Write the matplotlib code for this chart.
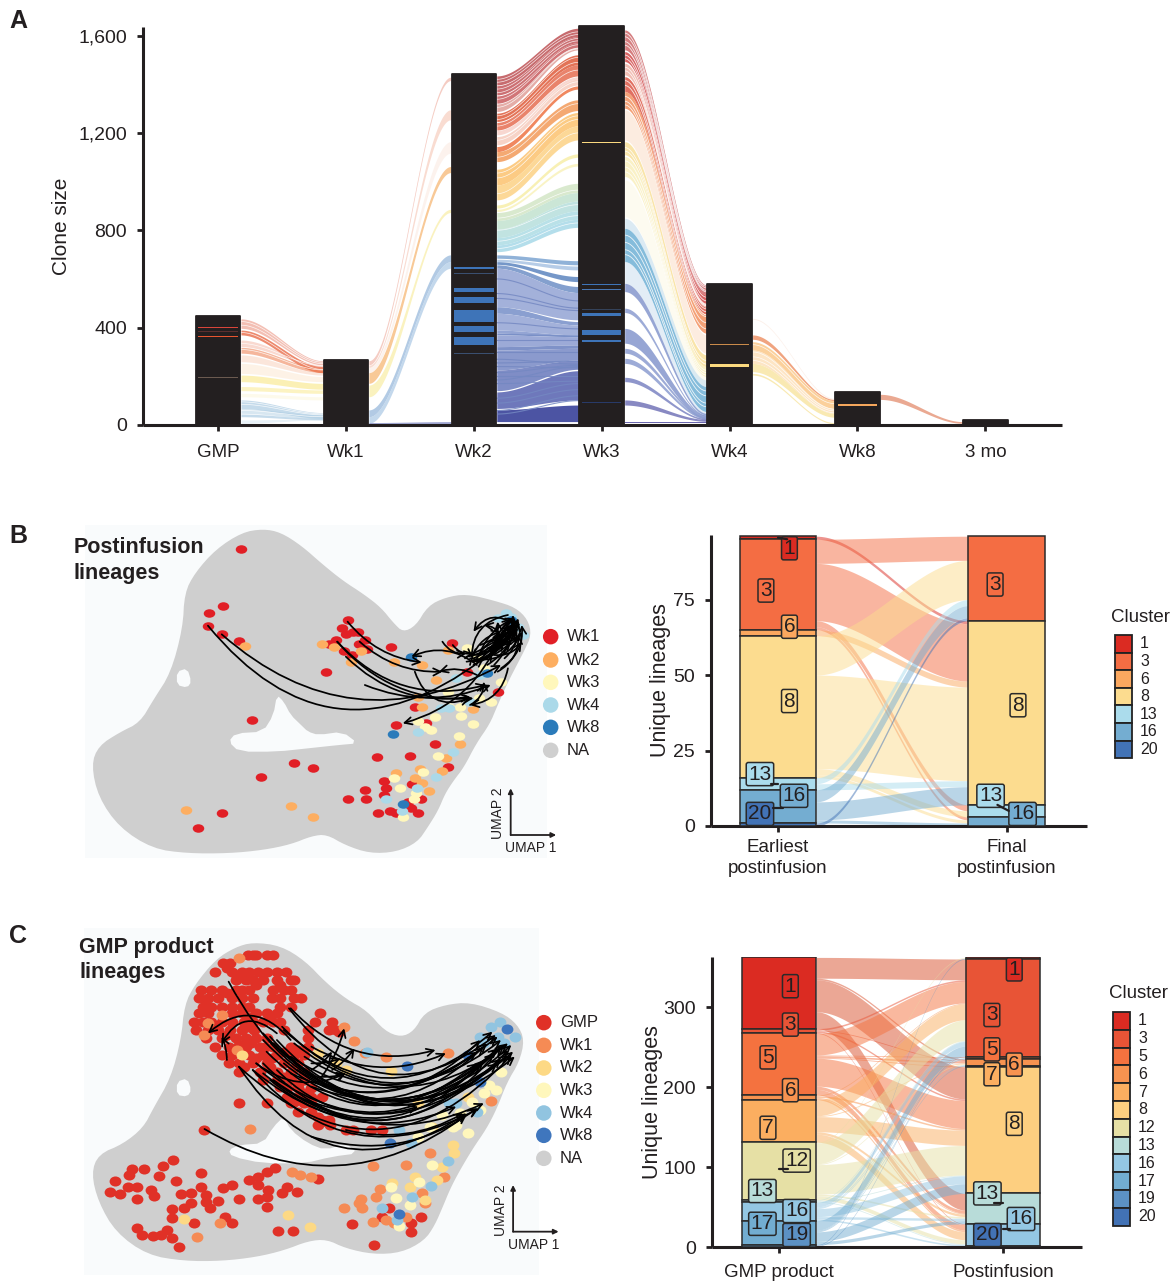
import numpy as np
import matplotlib
matplotlib.use('Agg')
from matplotlib import pyplot as plt
from matplotlib.markers import MarkerStyle
from matplotlib.patches import FancyArrowPatch
from matplotlib.transforms import Affine2D

plt.rcParams['font.family'] = ['Liberation Sans', 'DejaVu Sans']
INK = '#231f20'
W, H = 1174, 1283

# panel A
stages = ['GMP', 'Wk1', 'Wk2', 'Wk3', 'Wk4', 'Wk8', '3 mo']
stage_totals = [448, 267, 1442, 1640, 579, 135, 20]

# one row per band: left top, left bottom, right top, right bottom, colour, alpha
bands_gmp_wk1 = [
    (436, 397, 264, 247, '#e8806a', .5), (390, 370, 240, 215, '#e8623c', .75),
    (349, 322, 247, 240, '#f0a08a', .4), (319, 295, 233, 215, '#ee7a4c', .55),
    (288, 260, 215, 205, '#f6b89a', .35), (253, 212, 199, 178, '#fbdcb8', .35),
    (205, 178, 171, 147, '#fbeea8', .85), (158, 141, 144, 130, '#fbeea8', .7),
    (130, 116, 116, 103, '#fbf3cf', .4), (103, 68, 51, 27, '#8db8d8', .5),
    (68, 48, 41, 25, '#a9cbe2', .45), (45, 34, 27, 21, '#8db8d8', .5),
    (21, 7, 25, 21, '#c6dcec', .4),
]
bands_wk1_wk2 = [
    (264, 247, 1429, 1415, '#eb9a88', .5), (245, 237, 1295, 1254, '#f0a88e', .4),
    (237, 215, 1164, 1117, '#f6cdb8', .25), (215, 171, 1062, 1037, '#f6b26b', .7),
    (164, 116, 886, 873, '#f9efb0', .8), (62, 34, 699, 671, '#7fa8d3', .6),
    (34, 7, 671, 644, '#a4c3e2', .65), (10, 4, 14, 4, '#8a92c8', .8),
]
bands_wk2_wk3 = [
    (1434, 1397, 1630, 1596, '#b5393d', .75), (1394, 1356, 1596, 1571, '#bb4044', .75),
    (1352, 1322, 1571, 1552, '#c2474a', .75), (1319, 1288, 1549, 1541, '#cf6a60', .55),
    (1281, 1247, 1521, 1480, '#df5a3a', .85), (1243, 1212, 1480, 1434, '#e2593a', .75),
    (1210, 1192, 1431, 1421, '#f0a898', .45), (1185, 1151, 1421, 1397, '#f2b09a', .55),
    (1144, 1123, 1393, 1380, '#ef7b4d', .9), (1123, 1082, 1336, 1292, '#f2944f', .8),
    (1051, 986, 1284, 1229, '#fcc26f', .85), (986, 925, 1229, 1171, '#fcd285', .85),
    (904, 891, 1114, 1100, '#f7eea8', .85), (886, 877, 1075, 1064, '#f9f2bb', .85),
    (873, 840, 993, 955, '#d3e6c6', .85), (840, 805, 955, 920, '#c2e2cf', .85),
    (805, 770, 920, 880, '#b6dfdc', .85), (770, 740, 880, 845, '#addce4', .85),
    (740, 712, 845, 812, '#a7d9e8', .85), (699, 685, 675, 658, '#7da5d2', .85),
    (681, 671, 653, 637, '#a9c4e3', .85), (671, 660, 610, 589, '#5d85bf', .85),
    (658, 644, 569, 544, '#6f8fc6', .85), (644, 486, 544, 432, '#a3b1da', 1),
    (486, 459, 425, 411, '#8a9fd0', 1), (459, 390, 411, 370, '#a3b1da', 1),
    (390, 377, 370, 363, '#94a5d4', 1), (377, 370, 370, 363, '#7a90c7', 1),
    (370, 322, 363, 329, '#9caad7', 1), (322, 308, 329, 315, '#7f92c8', 1),
    (308, 226, 315, 267, '#8b9acd', 1), (226, 141, 267, 229, '#7f8dc6', 1),
    (136, 68, 223, 103, '#6e78bb', 1), (62, 14, 82, 14, '#4c54a3', 1),
]
bands_wk3_wk4 = [
    (1623, 1541, 575, 534, '#c4474a', .7), (1534, 1493, 534, 500, '#cc2f2f', .75),
    (1486, 1438, 500, 484, '#e88a77', .55), (1431, 1370, 484, 456, '#d8402c', .75),
    (1370, 1301, 452, 377, '#f28a55', .8), (1295, 1171, 370, 295, '#f9c9a8', .35),
    (1164, 1110, 288, 240, '#f9e09a', .85), (1103, 1021, 240, 199, '#f8eaa8', .65),
    (1007, 856, 199, 164, '#fbf3cf', .3), (849, 808, 185, 158, '#cfe4f0', .75),
    (808, 671, 158, 55, '#7fb9d9', .95), (671, 582, 55, 34, '#cddff0', .55),
    (582, 548, 48, 41, '#8c9dd0', .9), (480, 462, 41, 36, '#8c9dd0', .85),
    (397, 336, 41, 27, '#8c9dd0', .9), (315, 295, 34, 27, '#8c9dd0', .85),
    (274, 253, 32, 25, '#8c9dd0', .85), (196, 178, 27, 21, '#7b84c2', .85),
    (103, 82, 23, 15, '#7b7cbc', .9), (14, 7, 14, 7, '#5a55a5', .9),
]
bands_wk4_wk8 = [
    (438, 434, 110, 105, '#f6cdb8', .3), (370, 352, 105, 100, '#ef9a72', .9),
    (342, 308, 100, 68, '#fbc88a', .85), (308, 253, 68, 48, '#fcd7a6', .65),
    (253, 219, 48, 32, '#f8e6a5', .85), (212, 205, 10, 5, '#f8e6a5', .85),
]
bands_wk8_3mo = [(126, 105, 14, 7, '#e9a58c', .95)]

# thin separators between single clones: left level, right level
lines_gmp_wk1 = [(425, 258), (410, 252), (380, 228), (335, 244), (310, 226), (95, 46), (85, 42), (60, 34)]
lines_wk2_wk3 = [(1420, 1615), (1408, 1604), (1380, 1588), (1365, 1578), (1338, 1562), (1305, 1545), (1270, 1510),
                 (1255, 1490), (1228, 1458), (1170, 1410), (1100, 1320), (1035, 1270), (1015, 1255), (950, 1200),
                 (850, 965), (800, 905), (755, 860), (725, 830)]
dark_wk2_wk3 = [(600, 510), (540, 480), (520, 470), (420, 395), (350, 350), (300, 300), (270, 250), (240, 235),
                (200, 200), (170, 180), (110, 170), (90, 145), (255, 262), (215, 245), (185, 240), (60, 120), (45, 100)]
lines_wk3_wk4 = [(1610, 570), (1595, 563), (1575, 553), (1560, 547), (1520, 525), (1505, 510), (1470, 495), (1455, 490),
                 (1415, 477), (1395, 465), (1350, 445), (1330, 420), (1315, 395), (1140, 265), (1125, 250), (1085, 225),
                 (1060, 215), (1040, 205), (780, 140), (750, 120), (720, 90), (700, 75)]
lines_wk4_wk8 = [(330, 88), (300, 65), (280, 58), (265, 50)]

# level, thickness, colour of the stripes inside the dark bars
stripes_a = {
    0: [(401, 3, '#d9453a'), (385, 3, '#5a3030'), (363, 7, '#e8552f'), (196, 3, '#6b5a50')],
    2: [(645, 8, '#3e74b8'), (623, 3, '#3a4f70'), (555, 18, '#3e74b8'), (514, 25, '#3e74b8'),
        (448, 52, '#3e74b8'), (394, 25, '#3e74b8'), (344, 33, '#3e74b8'), (294, 3, '#3a4f70')],
    3: [(1160, 7, '#fbd97f'), (578, 3, '#3e74b8'), (557, 7, '#4a78b4'), (475, 3, '#34425a'),
        (453, 13, '#3e74b8'), (381, 20, '#3e74b8'), (344, 10, '#3e74b8'), (93, 3, '#283a68')],
    4: [(331, 3, '#c98a4a'), (244, 12, '#fbd97f')],
    5: [(81, 8, '#f4a65c')],
}

# panel B
clusters_b = [1, 3, 6, 8, 13, 16, 20]
colors_b = {1: '#db2b22', 3: '#f46d43', 6: '#fba85f', 8: '#fcdc8f', 13: '#abdcec', 16: '#74add1', 20: '#4273b6'}
from_b = [1, 3, 3, 3, 3, 6, 8, 8, 8, 8, 13, 13, 16, 16, 16, 20]
to_b = [8, 3, 8, 13, 16, 8, 3, 8, 13, 16, 3, 8, 3, 8, 16, 3]
count_b = [1, 8, 19, 2, 1, 2, 13, 31, 2, 1, 2, 2, 4, 6, 1, 1]
labels_b_x = [1.05, .947, 1.05, 1.05, .921, 1.07, .921, 1.95, 2.05, 1.93, 2.07]
labels_b_y = [92, 78, 66, 41.4, 17.2, 10, 4, 80, 40, 10, 4]
labels_b_text = [1, 3, 6, 8, 13, 16, 20, 3, 8, 13, 16]

# panel C
clusters_c = [1, 3, 5, 6, 7, 8, 12, 13, 16, 17, 19, 20]
colors_c = {1: '#db2b22', 3: '#e85436', 5: '#f4723f', 6: '#f79350', 7: '#fbae60', 8: '#fdcf80',
            12: '#e6e0a5', 13: '#b8dcd9', 16: '#94c7e3', 17: '#72add1', 19: '#5c91c4', 20: '#4272b5'}
from_c = [1, 1, 1, 1, 3, 3, 3, 3, 5, 5, 5, 5, 5, 5, 5, 6, 6, 6, 6, 7, 7, 7, 7, 7,
          12, 12, 12, 12, 12, 12, 13, 13, 13, 16, 16, 16, 16, 16, 16, 17, 17, 17, 17, 17, 19, 19, 19]
to_c = [3, 6, 8, 13, 3, 6, 8, 16, 3, 5, 6, 7, 8, 13, 16, 3, 8, 13, 16, 3, 6, 8, 13, 16,
        1, 3, 6, 8, 13, 16, 3, 8, 16, 3, 5, 6, 8, 13, 16, 3, 5, 6, 8, 13, 1, 3, 20]
count_c = [26, 2, 40, 21, 2, 1, 2, 1, 27, 1, 2, 1, 35, 4, 7, 1, 2, 1, 2, 20, 1, 19, 3, 10,
           1, 26, 1, 37, 2, 5, 1, 1, 1, 6, 1, 1, 10, 3, 2, 12, 1, 1, 12, 4, 1, 1, 1]
labels_c_x = [1.05, 1.05, .95, 1.05, .95, 1.078, .925, 1.078, .925, 1.078, 2.05, 1.95, 1.95, 2.05, 1.95, 2.05, 1.93, 2.08, 1.93]
labels_c_y = [326, 278, 237, 196, 149, 108, 70, 45, 29, 15, 347, 290, 247, 228, 216, 154, 67, 35, 15]
labels_c_text = [1, 3, 5, 6, 7, 12, 13, 16, 17, 19, 1, 3, 5, 6, 7, 8, 13, 16, 20]

# UMAP cloud outlines
cloud_b_x = [560, 610, 670, 730, 790, 850, 900, 935, 965, 1005, 1040, 1090, 1150, 1230, 1290, 1325, 1335, 1315, 1295, 1265, 1235, 1215, 1175, 1140, 1110, 1085, 1065, 1035, 1005, 945, 870, 800, 745, 700, 640, 560, 460, 340, 240, 145, 85, 65, 85, 145, 205, 245, 295, 330, 335, 365, 425, 500]
cloud_b_y = [15, 25, 65, 120, 170, 210, 250, 295, 325, 305, 245, 220, 210, 230, 250, 285, 330, 375, 415, 475, 545, 595, 655, 725, 765, 805, 855, 905, 950, 978, 982, 958, 925, 930, 955, 972, 982, 982, 968, 905, 815, 720, 665, 625, 595, 525, 445, 310, 205, 145, 75, 25]
hole_b_x = [460, 480, 560, 590, 600, 620, 640, 670, 690, 720, 790, 835, 780, 690, 600, 490]
hole_b_y = [650, 625, 620, 570, 510, 530, 570, 600, 620, 630, 620, 655, 660, 670, 680, 680]
notch_b_x = [310, 340, 352, 340, 310]
notch_b_y = [440, 430, 470, 488, 480]
cloud_c_x = [530, 610, 680, 740, 800, 860, 910, 960, 1000, 1030, 1090, 1160, 1250, 1295, 1315, 1300, 1265, 1235, 1205, 1165, 1125, 1100, 1080, 1055, 1025, 960, 880, 800, 745, 690, 620, 540, 440, 330, 225, 135, 85, 65, 85, 155, 215, 245, 295, 325, 335, 365, 425, 480]
cloud_c_y = [40, 50, 95, 160, 210, 245, 305, 325, 305, 250, 227, 220, 250, 285, 330, 395, 455, 535, 595, 655, 725, 775, 825, 885, 930, 965, 970, 952, 925, 930, 958, 978, 990, 990, 972, 905, 815, 730, 675, 645, 595, 535, 445, 330, 225, 165, 90, 55]
hole_c_x = [460, 490, 560, 590, 620, 640, 690, 740, 800, 835, 760, 680, 560, 470]
hole_c_y = [660, 645, 640, 590, 560, 600, 640, 660, 640, 670, 680, 700, 700, 680]
notch_c_x = [310, 340, 352, 340, 310]
notch_c_y = [455, 445, 480, 500, 495]

names_b = ['Wk1', 'Wk2', 'Wk3', 'Wk4', 'Wk8', 'NA']
dots_b = ['#e11f26', '#fdae61', '#fff7bc', '#abd9e9', '#2b7bba', '#cfcfcf']
wk1_b = [(496, 73), (445, 243), (402, 265), (400, 302), (440, 328), (490, 348), (805, 284), (790, 310), (800, 328), (820, 322), (835, 322), (855, 345), (838, 357), (772, 345), (750, 357), (795, 378), (818, 390), (862, 372), (932, 367), (1107, 355), (743, 442), (1240, 500), (528, 586), (1000, 545), (945, 600), (1033, 595), (1058, 656), (890, 697), (987, 694), (1097, 727), (650, 713), (706, 729), (555, 755), (910, 768), (915, 790), (855, 795), (805, 821), (858, 822), (910, 810), (993, 778), (1017, 822), (980, 830), (990, 848), (1010, 863), (893, 863), (928, 857), (945, 865), (442, 865), (372, 910), (1150, 440)]
wk2_b = [(507, 364), (730, 358), (765, 367), (843, 378), (815, 412), (940, 410), (1020, 420), (1095, 375), (1020, 545), (1170, 553), (1130, 658), (1090, 700), (1080, 737), (1015, 733), (1000, 760), (1020, 775), (1042, 799), (945, 745), (336, 855), (642, 843), (704, 877), (1060, 465), (1010, 515)]
wk3_b = [(1058, 576), (1133, 574), (1008, 587), (1030, 607), (1048, 615), (1170, 596), (1128, 632), (1067, 692), (1025, 742), (940, 758), (957, 790), (1003, 805), (997, 822), (966, 876), (1130, 545), (1220, 530), (1250, 470), (1180, 400), (1200, 430), (1150, 370), (1095, 500), (1185, 520), (1100, 545)]
wk4_b = [(1075, 550), (1100, 548), (1008, 620), (1110, 680), (1060, 755), (1005, 790), (917, 823), (962, 858), (1265, 265), (1240, 280), (1300, 305), (1315, 330), (1280, 275), (1160, 530), (1120, 460), (1190, 450)]
wk8_b = [(990, 395), (1210, 443), (938, 628), (967, 838), (1280, 285)]
arrows_b = [(400, 302, 1200, 400, .48), (440, 328, 1250, 420, .35), (805, 290, 1020, 412, .2), (840, 350, 1080, 440, .2),
            (775, 350, 1205, 480, .3), (775, 350, 1170, 520, .25), (800, 395, 1160, 515, .25), (855, 480, 1220, 480, .2),
            (1000, 440, 1160, 520, .5), (1110, 360, 1170, 385, .3), (1080, 350, 1150, 385, .3), (1180, 420, 990, 395, .3),
            (1250, 330, 965, 595, -.25), (1180, 450, 1070, 440, .2), (1290, 300, 1170, 320, .5), (1200, 400, 1285, 270, .3),
            (1180, 410, 1300, 280, .25), (1170, 390, 1290, 300, .3), (1160, 400, 1310, 320, .4), (1210, 420, 1300, 290, .2),
            (1220, 410, 1280, 280, -.2), (1150, 395, 1270, 290, .3), (1250, 430, 1310, 300, .3), (1240, 440, 1300, 330, .3),
            (1170, 420, 1270, 300, .2), (1190, 380, 1290, 280, -.2), (1190, 400, 1240, 290, .3), (1260, 400, 1280, 280, .4),
            (1230, 390, 1310, 350, .3), (1150, 410, 1260, 350, .2), (1220, 350, 1290, 290, .2), (1270, 430, 1160, 540, -.35),
            (1160, 540, 1200, 470, .3), (1270, 270, 1165, 400, .4), (1180, 400, 1290, 320, -.25), (1200, 380, 1270, 330, .35),
            (1170, 410, 1280, 350, .15), (1210, 400, 1300, 340, -.15), (1240, 370, 1200, 300, .6), (1160, 420, 1250, 320, -.3),
            (1170, 400, 1300, 310, .1), (1190, 410, 1280, 330, .1), (1200, 390, 1290, 300, .05), (1180, 390, 1270, 320, .1),
            (1210, 370, 1300, 300, .15), (1160, 390, 1260, 330, .05), (1230, 420, 1290, 320, .1), (1190, 360, 1280, 300, .1)]

names_c = ['GMP', 'Wk1', 'Wk2', 'Wk3', 'Wk4', 'Wk8', 'NA']
dots_c = ['#e03127', '#f58b55', '#fdd985', '#fff7bc', '#91c4e0', '#3f76bd', '#cfcfcf']
gmp_rows = {75: [515, 530, 540, 570, 590], 100: [445, 465], 125: [420, 470, 500, 520, 545, 570, 600, 625],
            150: [480, 510, 530, 560, 600, 640, 650], 180: [380, 410, 440, 480, 500, 520, 590, 620, 640],
            205: [375, 400, 430, 470, 500, 530, 585, 610, 650, 670], 230: [385, 410, 440, 470, 500, 520, 610, 640],
            250: [375, 400, 470, 500, 540, 570, 600, 725], 275: [360, 385, 410, 440, 470, 505, 530, 560, 590, 610, 710, 760],
            300: [365, 400, 430, 465, 500, 535, 620, 690, 750, 770], 325: [395, 440, 480, 510, 540, 570, 690],
            350: [420, 460, 510, 550, 590, 640, 690], 375: [440, 470, 520, 560, 600, 650, 680],
            400: [460, 490, 530, 570, 620, 660], 425: [490, 550, 600, 640, 680], 450: [560, 600, 640, 680],
            475: [630, 660, 700], 500: [630, 660, 700, 730], 520: [490, 570, 640, 680], 545: [660, 700],
            570: [730, 750], 585: [720, 755], 600: [390, 800, 820, 873, 905]}
gmp_extra = [(455, 115), (485, 140), (540, 165), (610, 165), (455, 190), (395, 225), (520, 262), (580, 262), (420, 290),
             (520, 290), (455, 315), (525, 340), (490, 345), (565, 350), (620, 365), (540, 385), (585, 385), (505, 412),
             (580, 410), (650, 415), (620, 440), (660, 462), (610, 470), (680, 490), (650, 515), (700, 520), (720, 560),
             (745, 575), (780, 305), (660, 360)]
gmp_low = [(300, 690), (270, 708), (180, 718), (215, 718), (170, 735), (258, 738), (130, 752), (380, 730), (307, 752), (168, 772), (195, 772), (115, 786), (145, 793), (235, 780), (243, 798), (193, 806), (322, 792), (380, 770), (350, 790), (395, 795), (295, 837), (330, 835), (350, 820), (395, 815), (405, 835), (430, 813), (490, 806), (445, 775), (470, 765), (520, 750), (545, 740), (570, 725), (595, 715), (545, 765), (575, 780), (570, 800), (545, 808), (615, 790), (630, 772), (658, 787), (570, 830), (450, 860), (470, 880), (295, 865), (360, 878), (195, 893), (210, 914), (240, 918), (265, 915), (280, 900), (295, 925), (317, 952), (603, 904), (647, 904), (818, 882), (882, 945), (905, 860), (990, 905), (1018, 860), (925, 833), (990, 880), (720, 748)]
wk1_c = [(522, 598), (368, 921), (435, 878), (643, 725), (668, 735), (698, 740), (878, 708), (973, 706), (900, 778), (888, 800), (845, 808), (837, 820), (848, 833), (795, 833), (880, 875), (915, 870), (940, 880), (975, 860), (1045, 668), (1085, 740), (1020, 790), (1030, 820), (400, 278), (440, 255), (390, 315), (490, 85), (485, 360), (795, 292), (825, 333), (855, 370), (917, 380), (1095, 370), (1222, 512)]
wk2_c = [(1110, 645), (1115, 670), (1078, 712), (1065, 750), (1000, 742), (985, 770), (935, 758), (1030, 810), (633, 855), (695, 890), (330, 868), (498, 376), (720, 370), (770, 400), (800, 420), (930, 422), (1010, 520), (1155, 500), (1050, 590)]
wk3_c = [(1050, 705), (1013, 755), (930, 770), (945, 803), (985, 825), (955, 888), (1155, 608), (1110, 590), (1045, 590), (1010, 620), (1120, 585), (1200, 490), (1235, 480), (1215, 465), (1165, 515), (1190, 540), (1130, 550), (1250, 425), (1080, 555)]
wk4_c = [(1247, 275), (1220, 290), (1190, 320), (1200, 340), (1290, 320), (1240, 320), (1260, 340), (1097, 692), (1047, 767), (993, 800), (905, 835), (948, 870), (860, 365), (955, 600), (990, 640), (1180, 545), (1100, 520), (1120, 520)]
wk8_c = [(1266, 296), (1155, 375), (978, 407), (927, 640), (955, 852), (1190, 455)]
arrows_c = [(390, 597, 1150, 555, .33), (460, 155, 1240, 320, .6), (635, 235, 1235, 315, .5), (615, 290, 1250, 330, .45),
            (560, 310, 1260, 345, .5), (580, 320, 1285, 365, .5), (600, 330, 1240, 355, .5), (650, 340, 1270, 340, .4),
            (560, 330, 1200, 350, .5), (570, 365, 1180, 400, .45), (620, 400, 1190, 410, .4), (680, 380, 1180, 365, .35),
            (540, 400, 1230, 370, .45), (530, 420, 1250, 385, .45), (490, 410, 1280, 375, .5), (590, 450, 1200, 390, .45),
            (560, 430, 1250, 350, .5), (640, 430, 1190, 330, .35), (700, 470, 1280, 345, .3), (660, 500, 1270, 360, .35),
            (530, 420, 1185, 535, .4), (490, 410, 1150, 550, .5), (700, 620, 1180, 535, .25), (800, 600, 1140, 550, .2),
            (540, 400, 800, 430, .3), (640, 235, 1060, 360, .3), (700, 350, 1090, 370, .25), (730, 440, 795, 295, .1),
            (700, 420, 760, 365, .1), (760, 420, 825, 355, .1), (700, 400, 785, 385, .1), (720, 440, 800, 430, .1),
            (640, 330, 400, 310, .5), (600, 310, 440, 340, .6), (455, 390, 440, 320, .1), (620, 300, 1225, 305, .45),
            (590, 340, 1290, 380, .45), (610, 360, 1270, 375, .42), (640, 380, 1210, 340, .38), (660, 420, 1240, 400, .35),
            (600, 420, 1010, 530, .3), (560, 400, 1200, 520, .35), (580, 450, 1120, 530, .3)]

fig = plt.figure(figsize=(W / 100, H / 100), dpi=100)


def px_axes(l, t, r, b):
    return fig.add_axes([l / W, 1 - b / H, (r - l) / W, (b - t) / H])


def curve(x0, x1, n=60):
    xs = np.linspace(x0, x1, n)
    t = (xs - x0) / (x1 - x0)
    return xs, 3 * t ** 2 - 2 * t ** 3


def style_axis(ax):
    ax.spines['top'].set_visible(False)
    ax.spines['right'].set_visible(False)
    for s in ['left', 'bottom']:
        ax.spines[s].set_linewidth(2.2)
        ax.spines[s].set_color(INK)
        ax.spines[s].set_capstyle('butt')
    ax.tick_params(length=4, width=2, color=INK, labelcolor=INK, labelsize=14)
    ax.tick_params(axis='x', labelsize=13.5)
    ax.tick_params(axis='y', pad=7.5)


# A ---------------------------------------------------------------
ax = px_axes(143, 27, 1062, 425)
ax.set_xlim(-0.586, 6.599)
ax.set_ylim(0, 1635)
style_axis(ax)
ax.tick_params(axis='x', pad=10)
half = 0.18
all_bands = [bands_gmp_wk1, bands_wk1_wk2, bands_wk2_wk3, bands_wk3_wk4, bands_wk4_wk8, bands_wk8_3mo]
for i, bands in enumerate(all_bands):
    xs, s = curve(i + half, i + 1 - half)
    for top0, bot0, top1, bot1, col, alpha in bands:
        ax.fill_between(xs, bot0 + (bot1 - bot0) * s, top0 + (top1 - top0) * s, color=col, alpha=alpha, lw=0)
for i, rows, col, width in [(0, lines_gmp_wk1, 'white', .5), (2, lines_wk2_wk3, 'white', .5), (2, dark_wk2_wk3, '#7488c2', .8),
                            (3, lines_wk3_wk4, 'white', .6), (4, lines_wk4_wk8, 'white', .5)]:
    xs, s = curve(i + half, i + 1 - half)
    for a, b in rows:
        ax.plot(xs, a + (b - a) * s, color=col, lw=width, alpha=.85)
ax.bar(range(len(stages)), stage_totals, width=half * 2 - .012, color=INK, edgecolor=INK, lw=1.3, joinstyle='round',
       clip_on=False, zorder=3)
for i, rows in stripes_a.items():
    for level, thick, col in rows:
        ax.bar(i, thick, bottom=level - thick / 2, width=0.31, color=col, zorder=4)
ax.set_xticks(range(len(stages)), stages)
ax.set_yticks([0, 400, 800, 1200, 1600], ['0', '400', '800', '1,200', '1,600'])
ax.set_ylabel('Clone size', fontsize=15, color=INK, labelpad=5.5)


# B and C alluvia -------------------------------------------------
def alluvium(box, order, colors, src, dst, cnt, ymax, yticks, xlabels, lx, ly, ltext, pad, lab_x, over):
    ax = px_axes(*box[:4])
    ax.set_xlim(box[4], box[5])
    ax.set_ylim(0, ymax)
    style_axis(ax)
    rank = {c: i for i, c in enumerate(order)}
    total = sum(cnt)
    idx = range(len(cnt))
    top = total
    left = {}
    for i in sorted(idx, key=lambda k: (rank[src[k]], rank[dst[k]])):
        left[i] = (top, top - cnt[i])
        top -= cnt[i]
    top = total
    right = {}
    for i in sorted(idx, key=lambda k: (rank[dst[k]], rank[src[k]])):
        right[i] = (top, top - cnt[i])
        top -= cnt[i]
    w = box[6]
    xs, s = curve(1 + w, 2 - w)
    for i in idx:
        a, b = left[i]
        c, d = right[i]
        ax.fill_between(xs, b + (d - b) * s, a + (c - a) * s, color=over.get(src[i], colors[src[i]]), alpha=.5, lw=0)
    for col_x, keys in ((1, src), (2, dst)):
        base = total
        for c in order:
            n = sum(cnt[i] for i in idx if keys[i] == c)
            if n:
                ax.bar(col_x, n, bottom=base - n, width=2 * w, color=colors[c], edgecolor='#2a2a2a', lw=1.1, zorder=3)
                base -= n
    for x, y, t in zip(lx, ly, ltext):
        ax.text(x, y, str(t), ha='center', va='center', fontsize=15, color=INK, zorder=6,
                bbox=dict(boxstyle='round,pad=0.1,rounding_size=0.1', fc=colors[t], ec='#2a2a2a', lw=1.1))
    ax.set_xticks([1, 2], xlabels, linespacing=1.32)
    ax.set_yticks(yticks)
    ax.tick_params(axis='x', pad=pad)
    ax.set_ylabel('Unique lineages', fontsize=15.5, color=INK, labelpad=lab_x)
    return ax


ax_b = alluvium((711, 535, 1087, 826, 0.7068, 2.352, 1 / 6), clusters_b, colors_b, from_b, to_b, count_b, 96.4,
                [0, 25, 50, 75], ['Earliest\npostinfusion', 'Final\npostinfusion'], labels_b_x, labels_b_y,
                labels_b_text, 5, 1.5, {})
ax_c = alluvium((712, 957, 1082, 1247, 0.7, 2.3525, 1 / 6), clusters_c, colors_c, from_c, to_c, count_c, 362.5,
                [0, 100, 200, 300], ['GMP product', 'Postinfusion'], labels_c_x, labels_c_y,
                labels_c_text, 8, 0, {1: '#d9502c'})
for ax, x0, x1, y0, y1 in [(ax_b, .97, 1.0, 13.8, 13.8), (ax_b, .98, 1.02, 6, 6), (ax_b, 1.96, 2.01, 7, 5),
                           (ax_b, 1.0, 1.04, 95.5, 95), (ax_c, 1.0, 1.04, 97, 97), (ax_c, 1.96, 2.0, 55, 55),
                           (ax_c, 2.0, 2.03, 22, 22)]:
    ax.plot([x0, x1], [y0, y1], color=INK, lw=1.6, zorder=7, solid_capstyle='round')


def legend_boxes(order, colors, title, left, top, step, title_y):
    ax = px_axes(1100, title_y - 15, 1174, top + step * len(order) + 4)
    ax.set_xlim(1100, 1174)
    ax.set_ylim(top + step * len(order) + 4, title_y - 15)
    ax.axis('off')
    ax.text(left - 4, title_y, title, fontsize=13.5, color=INK, va='center')
    for i, c in enumerate(order):
        ax.bar(left + 8.5, step, bottom=top + i * step, width=17, color=colors[c], edgecolor='#222222', lw=1.3)
        ax.text(left + 25, top + (i + .5) * step, str(c), fontsize=11.5, color=INK, va='center')


legend_boxes(clusters_b, colors_b, 'Cluster', 1115, 635, 17.6, 617)
legend_boxes(clusters_c, colors_c, 'Cluster', 1113, 1012, 17.8, 994)


# UMAP panels -----------------------------------------------------
def chaikin(x, y, rounds=2):
    p = np.column_stack([x, y]).astype(float)
    for _ in range(rounds):
        q = np.roll(p, -1, axis=0)
        p = np.column_stack([.75 * p + .25 * q, .25 * p + .75 * q]).reshape(-1, 2)
    return p[:, 0], p[:, 1]


def umap_panel(top, height, bg, cloud, holes, groups, cols, names, arrows, title, tx, ty, dot_x, dot_ys, ax_o, ula, ulb, size, spot):
    ax = px_axes(70, top, 610, top + height / 3)
    ax.set_xlim(0, 1566)
    ax.set_ylim(height, 0)
    ax.axis('off')
    ax.fill([bg[0], bg[1], bg[1], bg[0]], [bg[2], bg[2], bg[3], bg[3]], color='#f9fbfc', lw=0, clip_on=False)
    ax.fill(*chaikin(*cloud), color='#cfcfcf', lw=1.5, joinstyle='round')
    for hx, hy in holes:
        ax.fill(*chaikin(hx, hy, 1), color='#f9fbfc', lw=0)
    for pts, col in zip(groups, cols):
        ax.scatter([p[0] for p in pts], [p[1] for p in pts], s=size, color=col, marker=spot, lw=0)
    for x0, y0, x1, y1, rad in arrows:
        ax.add_patch(FancyArrowPatch((x0, y0), (x1, y1), connectionstyle=f'arc3,rad={rad}', arrowstyle='->',
                                     mutation_scale=13, lw=1.25, color='black', shrinkA=0, shrinkB=0, zorder=5))
    ax.text(tx, ty, title, fontsize=15.5, fontweight='bold', color=INK, va='center', linespacing=1.3)
    ax.scatter([dot_x] * len(names), dot_ys, s=125, color=cols + ['#cfcfcf'], lw=0)
    for n, y in zip(names, dot_ys):
        ax.text(dot_x + 46, y, n, fontsize=12, color=INK, va='center')
    ox, oy = ax_o
    for dx, dy in ((0, -140), (132, 0)):
        ax.add_patch(FancyArrowPatch((ox, oy), (ox + dx, oy + dy), arrowstyle='-|>', mutation_scale=7, lw=1.3,
                                     color=INK, shrinkA=0, shrinkB=0))
    ax.text(*ula, 'UMAP 2', rotation=90, fontsize=10, color=INK, ha='center', va='center')
    ax.text(*ulb, 'UMAP 1', fontsize=10, color=INK, ha='center', va='center')


spot_b = MarkerStyle('o', transform=Affine2D().scale(1.15, .85))
spot_c = MarkerStyle('o', transform=Affine2D().scale(1.08, .92))
umap_panel(525, 1020, (44, 1383, 0, 999), (cloud_b_x, cloud_b_y), [(hole_b_x, hole_b_y), (notch_b_x, notch_b_y)],
           [wk1_b, wk2_b, wk3_b, wk4_b, wk8_b], dots_b[:5], names_b, arrows_b,
           'Postinfusion\nlineages', 10, 106, 1394, [335, 405, 472, 540, 607, 676], (1278, 930), (1240, 865), (1335, 968), 52, spot_b)

gmp_c = [(x, y) for y, row in gmp_rows.items() for x in row] + gmp_extra + gmp_low
umap_panel(930, 1059, (41, 1360, -6, 1035), (cloud_c_x, cloud_c_y), [(hole_c_x, hole_c_y), (notch_c_x, notch_c_y)],
           [gmp_c, wk1_c, wk2_c, wk3_c, wk4_c, wk8_c], dots_c[:6], names_c, arrows_c,
           'GMP product\nlineages', 27, 90, 1374, [278, 346, 414, 481, 549, 616, 685], (1285, 905), (1250, 842), (1345, 945), 62, spot_c)

for letter, y in (('A', 21), ('B', 536), ('C', 936)):
    fig.text(9 / W, 1 - y / H, letter, fontsize=18, fontweight='bold', color=INK, va='center')

fig.savefig('out.png', dpi=100)
